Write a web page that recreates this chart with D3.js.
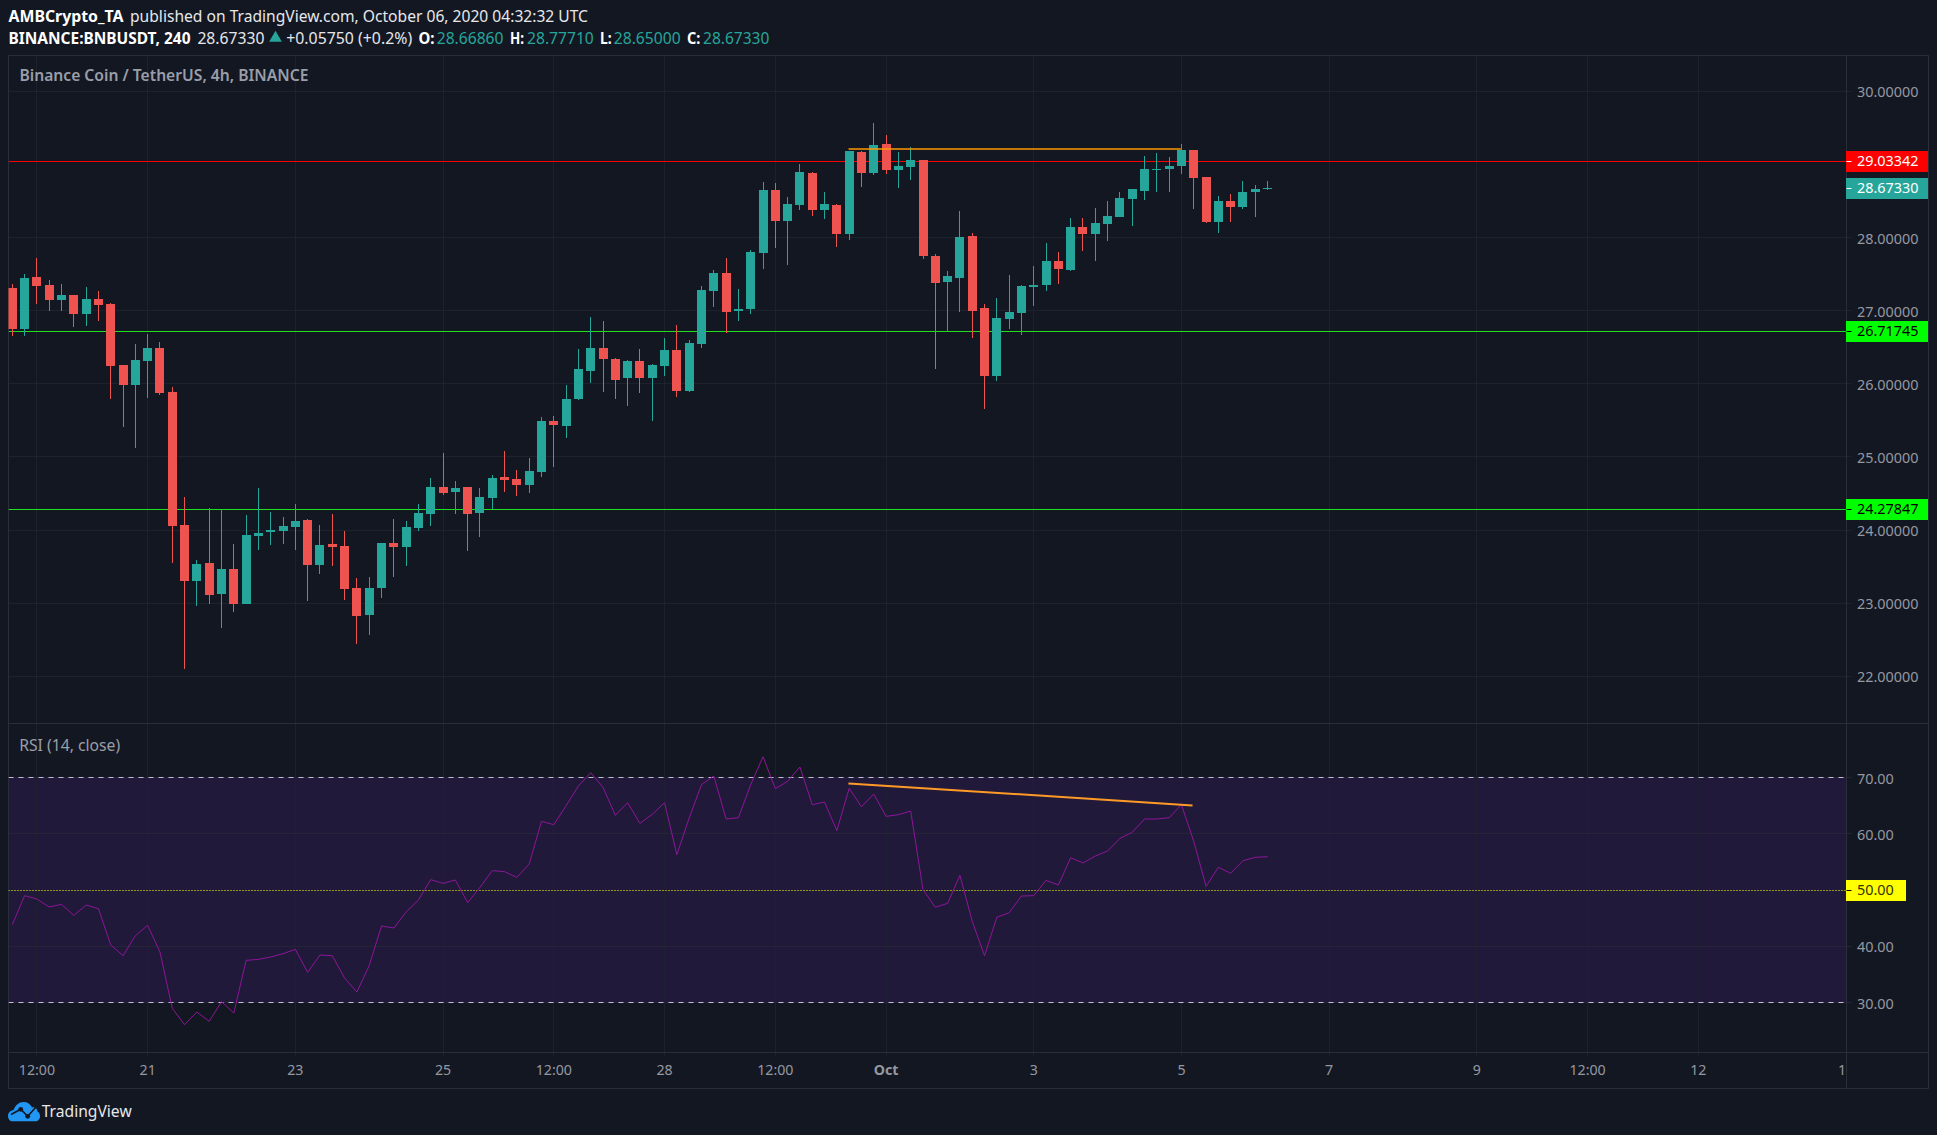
<!DOCTYPE html>
<html lang="en">
<head>
  <meta charset="UTF-8">
  <title>BNBUSDT 4h</title>
  <script src="https://cdn.jsdelivr.net/npm/d3@7"></script>
  <style>
    html, body { margin: 0; padding: 0; background: #131722; }
    svg { display: block; font-family: "Noto Sans", sans-serif; }
  </style>
</head>
<body>
  <div id="chart"></div>

  <script>
    // candles, one per 4h bar, starting 19 Sep 2020 04:00 UTC
    const opens = [27.305,26.744,27.456,27.346,27.141,27.210,26.950,27.155,27.086,26.252,25.978,26.307,26.485,25.883,24.063,23.297,23.543,23.119,23.461,22.982,23.913,23.967,23.981,24.036,24.132,23.516,23.803,23.776,23.201,22.832,23.201,23.817,23.762,24.022,24.214,24.583,24.519,24.587,24.231,24.437,24.724,24.696,24.614,24.788,25.486,25.418,25.787,26.170,26.485,26.334,26.074,26.307,26.074,26.238,26.457,25.896,26.539,27.264,27.511,26.991,27.018,27.786,28.648,28.224,28.442,28.880,28.374,28.442,28.046,29.167,28.880,29.277,28.921,28.962,29.058,27.745,27.389,27.444,28.018,27.033,26.103,26.883,26.965,27.321,27.348,27.676,27.553,28.141,28.046,28.182,28.278,28.524,28.634,28.921,28.935,28.976,29.195,28.825,28.210,28.497,28.415,28.620,28.6686];
    const highs = [27.360,27.497,27.716,27.415,27.360,27.210,27.319,27.264,27.100,26.252,26.539,26.676,26.567,25.951,24.446,23.584,24.296,24.268,23.803,24.200,24.569,24.241,24.173,24.350,24.145,24.063,24.214,23.981,23.338,23.352,23.817,24.145,24.118,24.350,24.706,25.048,24.669,24.587,24.573,24.751,25.080,24.820,24.984,25.541,25.554,25.978,26.471,26.909,26.854,26.348,26.320,26.471,26.266,26.621,26.799,26.594,27.333,27.552,27.716,27.292,27.825,28.757,28.743,28.552,29.003,28.894,28.620,28.456,29.181,29.181,29.564,29.400,29.167,29.236,29.058,27.772,27.540,28.360,28.059,27.088,27.170,27.485,27.348,27.608,27.923,27.799,28.265,28.265,28.401,28.497,28.620,28.661,29.113,29.154,29.099,29.277,29.195,28.825,28.566,28.593,28.771,28.716,28.7771];
    const lows = [26.649,26.649,27.086,26.991,26.991,26.772,26.786,26.854,25.787,25.404,25.117,25.801,25.842,23.543,22.093,22.955,22.982,22.654,22.873,22.982,23.721,23.790,23.803,23.721,23.024,23.393,23.502,23.037,22.435,22.558,23.065,23.352,23.502,23.981,24.050,24.474,24.218,23.711,23.903,24.282,24.519,24.464,24.505,24.720,24.857,25.253,25.773,26.006,25.883,25.787,25.691,25.869,25.486,26.102,25.814,25.883,26.485,27.045,26.690,26.854,26.950,27.567,27.854,27.622,28.374,28.292,28.251,27.868,27.964,28.689,28.853,28.866,28.675,28.784,27.704,26.199,26.714,26.979,26.623,25.652,26.035,26.746,26.664,27.061,27.266,27.362,27.540,27.813,27.676,27.950,28.278,28.155,28.511,28.620,28.620,28.866,28.388,28.196,28.059,28.210,28.388,28.278,28.65];
    const closes = [26.744,27.442,27.333,27.141,27.210,26.950,27.155,27.073,26.238,25.978,26.320,26.485,25.869,24.050,23.297,23.530,23.106,23.461,22.982,23.926,23.954,23.995,24.050,24.118,23.516,23.790,23.762,23.188,22.818,23.201,23.817,23.762,24.036,24.227,24.583,24.501,24.573,24.218,24.450,24.710,24.683,24.614,24.806,25.486,25.431,25.787,26.197,26.485,26.334,26.047,26.307,26.074,26.252,26.457,25.896,26.553,27.278,27.511,26.977,27.018,27.798,28.648,28.224,28.456,28.894,28.374,28.456,28.046,29.181,28.880,29.263,28.921,28.976,29.058,27.745,27.375,27.471,28.005,26.992,26.103,26.897,26.979,27.334,27.348,27.676,27.567,28.141,28.046,28.196,28.292,28.538,28.661,28.935,28.935,28.976,29.195,28.812,28.210,28.497,28.415,28.620,28.661,28.6733];
    const rsi = [43.84,48.99,48.40,46.98,47.45,45.49,47.33,46.68,40.22,38.32,41.88,43.72,38.98,28.96,26.06,28.31,26.65,30.15,28.13,37.49,37.67,38.09,38.68,39.45,35.36,38.44,38.32,34.35,31.86,36.55,43.60,43.24,46.09,48.22,51.84,51.18,51.78,47.75,50.47,53.44,53.26,52.25,54.62,62.21,61.61,64.99,68.49,70.86,68.25,63.27,65.52,61.85,63.45,65.52,56.28,62.80,68.72,70.27,62.62,62.86,68.72,73.70,68.01,69.32,71.87,65.17,65.64,60.55,68.07,64.81,67.07,63.10,63.39,64.04,50.06,46.92,47.63,52.61,44.43,38.32,45.14,45.97,48.93,48.99,51.72,50.89,55.75,54.80,56.04,56.93,59.18,60.25,62.62,62.62,62.86,65.17,58.65,50.65,54.03,52.96,55.21,55.81,55.92];

    // 29 has no label or grid line of its own, the red tag covers it
    const priceTicks = [30, 28, 27, 26, 25, 24, 23, 22];
    const rsiTicks = [70, 60, 40, 30];
    const timeBars = [2, 11, 23, 35, 44, 53, 62, 71, 83, 95, 107, 119, 128, 137, 149];
    const timeLabels = ['12:00', '21', '23', '25', '12:00', '28', '12:00', 'Oct', '3', '5', '7', '9', '12:00', '12', '14'];

    // horizontal levels drawn on the chart
    const levelPrices = [29.03342, 26.71745, 24.27847];
    const levelColors = ['#ff0000', '#1fe01f', '#1fe01f'];
    const levelBoxes = ['#ff0000', '#00ff00', '#00ff00'];
    const levelText = ['#ffffff', '#000000', '#000000'];

    // hand drawn trend lines [bar, value]
    const priceTrend = [[67.95, 29.211], [94.95, 29.211]];
    const rsiTrend = [[67.94, 68.95], [95.9, 65.04]];

    const up = '#26a69a', down = '#ef5350', bg = '#131722', grid = '#1e222d', axis = '#2a2e39', tickText = '#9598a1';
    const left = 8.5, right = 1846.5, outer = 1928.5, paneTop = 55.5, mid = 723.5, bottom = 1052.5, timeBottom = 1088.5;

    const px = v => Math.floor(v) + 0.5;

    const x = d3.scaleLinear().domain([0, 102]).range([12.3, 1267.6]);
    const y = d3.scaleLinear().domain([30, 22]).range([91.3, 676.3]);
    const yr = d3.scaleLinear().domain([70, 30]).range([777.5, 1002.5]);

    const svg = d3.select('#chart').append('svg')
      .attr('width', 1937)
      .attr('height', 1135);

    svg.append('rect').attr('width', 1937).attr('height', 1135).attr('fill', bg);

    const defs = svg.append('defs');
    defs.append('clipPath').attr('id', 'main').append('rect')
      .attr('x', left).attr('y', paneTop).attr('width', right - left).attr('height', mid - paneTop);
    defs.append('clipPath').attr('id', 'lower').append('rect')
      .attr('x', left).attr('y', mid).attr('width', right - left).attr('height', bottom - mid);
    defs.append('clipPath').attr('id', 'times').append('rect')
      .attr('x', left).attr('y', bottom).attr('width', right - left).attr('height', timeBottom - bottom);

    // RSI band goes under the grid
    svg.append('rect')
      .attr('x', left).attr('width', right - left)
      .attr('y', yr(70)).attr('height', yr(30) - yr(70))
      .attr('fill', '#21193a');

    // vertical grid, both panes
    svg.append('g').selectAll('line')
      .data(timeBars)
      .join('line')
      .attr('x1', d => px(x(d))).attr('x2', d => px(x(d)))
      .attr('y1', paneTop).attr('y2', bottom + 4)
      .attr('stroke', d => d == 149 ? axis : grid)
      .attr('stroke-opacity', 0.95);

    // price axis, text sits a pixel under its grid line
    const priceAxis = d3.axisRight(y)
      .tickValues(priceTicks)
      .tickSize(0)
      .tickPadding(10.5)
      .tickFormat(d3.format('.5f'));
    const pa = svg.append('g').attr('transform', `translate(${right},1)`).call(priceAxis);
    pa.select('.domain').remove();

    svg.append('g').selectAll('line')
      .data(priceTicks)
      .join('line')
      .attr('x1', left).attr('x2', right + 5)
      .attr('y1', d => px(y(d))).attr('y2', d => px(y(d)))
      .attr('stroke', grid);

    const rsiAxis = d3.axisRight(yr)
      .tickValues(rsiTicks)
      .tickSize(0)
      .tickPadding(10.5)
      .tickFormat(d3.format('.2f'));
    const ra = svg.append('g').attr('transform', `translate(${right},1)`).call(rsiAxis);
    ra.select('.domain').remove();

    svg.append('g').selectAll('line')
      .data(rsiTicks.concat([50]))
      .join('line')
      .attr('x1', left).attr('x2', right + 5)
      .attr('y1', d => px(yr(d))).attr('y2', d => px(yr(d)))
      .attr('stroke', '#272437');

    [pa, ra].forEach(g => g.selectAll('text')
      .attr('fill', tickText)
      .attr('font-size', 14.4)
      .attr('font-family', '"Noto Sans", sans-serif'));

    const timeAxis = d3.axisBottom(x)
      .tickValues(timeBars)
      .tickSize(0)
      .tickPadding(12)
      .tickFormat((d, i) => timeLabels[i]);
    const ta = svg.append('g')
      .attr('clip-path', 'url(#times)')
      .append('g')
      .attr('transform', `translate(-0.5,${bottom})`)
      .call(timeAxis);
    ta.select('.domain').remove();
    ta.selectAll('text')
      .attr('fill', tickText)
      .attr('font-size', 14.2)
      .attr('font-family', '"Noto Sans", sans-serif')
      .attr('font-weight', (d, i) => timeLabels[i] == 'Oct' ? 700 : 400);

    // pane borders
    const borders = [
      [left, paneTop, outer, paneTop], [left, mid, outer, mid], [left, bottom, outer, bottom],
      [left, timeBottom, outer, timeBottom], [left, paneTop, left, timeBottom],
      [right, paneTop, right, timeBottom], [outer, paneTop, outer, timeBottom]
    ];
    svg.append('g').selectAll('line')
      .data(borders)
      .join('line')
      .attr('x1', d => d[0]).attr('y1', d => d[1])
      .attr('x2', d => d[2]).attr('y2', d => d[3])
      .attr('stroke', axis);

    // level lines and their price tags
    const main = svg.append('g').attr('clip-path', 'url(#main)');

    main.selectAll('.level')
      .data(levelPrices)
      .join('line')
      .attr('class', 'level')
      .attr('x1', left).attr('x2', right)
      .attr('y1', d => px(y(d))).attr('y2', d => px(y(d)))
      .attr('stroke', (d, i) => levelColors[i])
      .attr('stroke-width', 1.2);

    // candles
    const bars = main.selectAll('.bar')
      .data(d3.range(opens.length))
      .join('g')
      .attr('class', 'bar')
      .attr('fill', i => closes[i] >= opens[i] ? up : down)
      .attr('shape-rendering', 'crispEdges');

    bars.append('rect')
      .attr('x', i => Math.floor(x(i)))
      .attr('width', 1)
      .attr('y', i => y(highs[i]))
      .attr('height', i => y(lows[i]) - y(highs[i]));

    bars.append('rect')
      .attr('x', i => Math.floor(x(i)) - 4)
      .attr('width', 9)
      .attr('y', i => y(Math.max(opens[i], closes[i])))
      .attr('height', i => Math.max(1, Math.abs(y(opens[i]) - y(closes[i]))));

    const line = d3.line().x(d => x(d[0]));

    main.append('path')
      .attr('d', line.y(d => y(d[1]))(priceTrend))
      .attr('fill', 'none')
      .attr('stroke', '#ff9800')
      .attr('stroke-width', 1.5);

    // RSI pane
    const lower = svg.append('g').attr('clip-path', 'url(#lower)');

    lower.selectAll('.bound')
      .data([70, 30])
      .join('line')
      .attr('class', 'bound')
      .attr('x1', left).attr('x2', right)
      .attr('y1', d => px(yr(d))).attr('y2', d => px(yr(d)))
      .attr('stroke', '#c3bcdb')
      .attr('stroke-dasharray', '5 5');

    lower.append('line')
      .attr('x1', left).attr('x2', right)
      .attr('y1', px(yr(50))).attr('y2', px(yr(50)))
      .attr('stroke', '#ffff00')
      .attr('stroke-dasharray', '1 2');

    lower.append('path')
      .attr('d', d3.line().x((d, i) => x(i)).y(d => yr(d))(rsi))
      .attr('fill', 'none')
      .attr('stroke', '#8e1599')
      .attr('stroke-width', 1);

    lower.append('path')
      .attr('d', line.y(d => yr(d[1]))(rsiTrend))
      .attr('fill', 'none')
      .attr('stroke', '#ff9a26')
      .attr('stroke-width', 2);

    // tags on the price scale
    function tag(yv, w, fill, color, text, mark) {
      svg.append('rect')
        .attr('x', right - 0.5).attr('width', w)
        .attr('y', yv - 10.5).attr('height', 21)
        .attr('fill', fill);
      svg.append('line')
        .attr('x1', right).attr('x2', right + 5)
        .attr('y1', px(yv)).attr('y2', px(yv))
        .attr('stroke', mark);
      svg.append('text')
        .attr('x', right + 10.5).attr('y', yv)
        .attr('dy', '0.32em')
        .attr('font-size', 14.4)
        .attr('fill', color)
        .text(text);
    }

    levelPrices.forEach((d, i) => tag(px(y(d)), 82, levelBoxes[i], levelText[i], d3.format('.5f')(d), levelText[i]));
    tag(px(y(closes[closes.length - 1])), 82, up, '#ffffff', d3.format('.5f')(closes[closes.length - 1]), '#ffffff');
    tag(px(yr(50)), 60, '#ffff00', '#333300', '50.00', '#000000');

    function label(tx, ty, text, w, size, color, weight) {
      return svg.append('text')
        .attr('x', tx).attr('y', ty)
        .attr('font-size', size)
        .attr('fill', color)
        .attr('font-weight', weight || 400)
        .attr('textLength', w)
        .attr('lengthAdjust', 'spacingAndGlyphs')
        .text(text);
    }

    const white = '#e6e7ea';
    label(8.5, 22, 'AMBCrypto_TA', 115, 15.6, '#ffffff', 700);
    label(130, 22, 'published on TradingView.com, October 06, 2020 04:32:32 UTC', 458, 15.6, white);
    label(8.5, 44, 'BINANCE:BNBUSDT, 240', 182, 15.6, '#ffffff', 700);
    label(197.4, 44, '28.67330', 67, 15.6, white);
    svg.append('path')
      .attr('transform', 'translate(275.5,38)')
      .attr('d', d3.symbol(d3.symbolTriangle, 70)())
      .attr('fill', up);
    label(286.2, 44, '+0.05750 (+0.2%)', 126, 15.6, white);
    label(418.4, 44, 'O:', 16, 15.6, '#ffffff', 700);
    label(436.7, 44, '28.66860', 66.8, 15.6, up);
    label(510, 44, 'H:', 14, 15.6, '#ffffff', 700);
    label(527, 44, '28.77710', 66.8, 15.6, up);
    label(600, 44, 'L:', 11.7, 15.6, '#ffffff', 700);
    label(613.8, 44, '28.65000', 66.8, 15.6, up);
    label(687, 44, 'C:', 13.3, 15.6, '#ffffff', 700);
    label(703, 44, '28.67330', 66.3, 15.6, up);

    label(19.4, 81, 'Binance Coin / TetherUS, 4h, BINANCE', 289, 15.6, '#9a9ea8', 600);
    label(19.2, 750.5, 'RSI (14, close)', 101, 15.6, '#9a9ea8');

    // logo
    const logo = svg.append('g').attr('transform', 'translate(8,1102)');
    logo.append('path')
      .attr('d', 'M0 14C0 10.5 2.5 8.5 5.5 8C7.5 3 11 0 15.5 0C19.5 0 22.5 2 24 5.5C26.5 4.5 29.5 6.5 29.5 9.5C31.5 10.5 32 12.5 32 14.5C32 17 30 19.3 27.5 19.3H4.5C2 19.3 0 17 0 14Z')
      .attr('fill', '#2196f3');
    logo.append('path')
      .attr('d', 'M3 12.5L12.7 7.3L19.7 14.3L28 5')
      .attr('fill', 'none')
      .attr('stroke', bg)
      .attr('stroke-width', 1.6);
    logo.selectAll('circle')
      .data([[12.7, 7.3], [19.7, 14.3]])
      .join('circle')
      .attr('cx', d => d[0]).attr('cy', d => d[1]).attr('r', 2.4)
      .attr('fill', bg);
    label(41.7, 1117, 'TradingView', 90, 16, '#e6e7ea');
  </script>
</body>
</html>
